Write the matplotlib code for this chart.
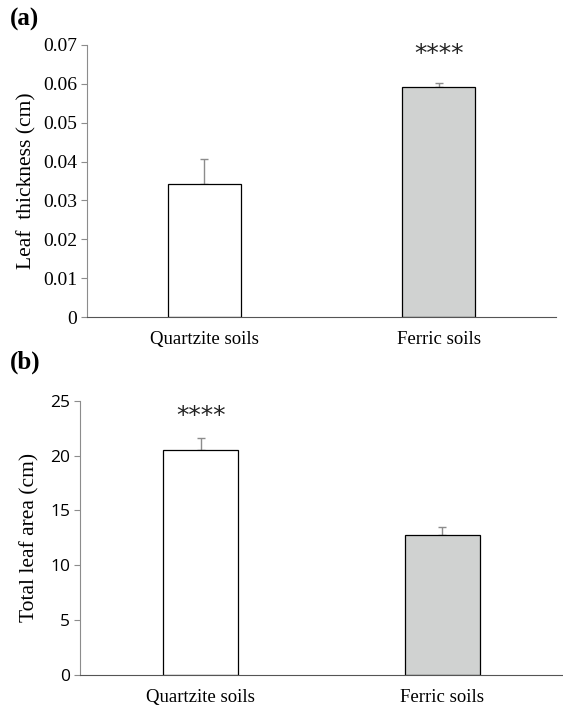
import numpy as np
import matplotlib.pyplot as plt

categories = ["Quartzite soils", "Ferric soils"]

thickness = [0.0342, 0.0592]
thickness_err = [0.0065, 0.0010]
thickness_ticks = [0, 0.01, 0.02, 0.03, 0.04, 0.05, 0.06, 0.07]
thickness_ticklabels = ["0", "0.01", "0.02", "0.03", "0.04", "0.05", "0.06", "0.07"]

area = [20.5, 12.8]
area_err = [1.1, 0.65]
area_ticks = [0, 5, 10, 15, 20, 25]

stars_a = ["", "****"]
stars_b = ["****", ""]

bar_colors = ["white", "#d0d2d1"]
axis_gray = "#8c8c8c"
serif = "Liberation Serif"


def style_axes(ax):
    for side in ["top", "right"]:
        ax.spines[side].set_visible(False)
    ax.spines["left"].set_color(axis_gray)
    ax.spines["bottom"].set_color("#555555")
    ax.tick_params(axis="y", length=4, color=axis_gray, pad=3)
    ax.tick_params(axis="x", length=0, pad=10)


def draw_bars(ax, values, errs, stars, star_pos):
    x = np.arange(len(values))
    ax.bar(x, values, width=0.31, color=bar_colors, edgecolor="black", linewidth=0.9, zorder=2)
    ax.errorbar(x, values, yerr=[np.zeros(len(errs)), errs], fmt="none",
                ecolor=axis_gray, elinewidth=1.0, capsize=3, capthick=1.0, zorder=1)
    for xi, s in zip(x, stars):
        if s:
            ax.text(xi, star_pos, s, ha="center", va="center", fontsize=18,
                    family="DejaVu Sans", color="#222222", clip_on=False)
    ax.set_xlim(-0.5, 1.5)
    ax.set_xticks(x)
    ax.set_xticklabels(categories, family=serif, fontsize=13.5)


fig = plt.figure(figsize=(5.63, 7.07), dpi=100)

ax1 = fig.add_axes([0.1545, 0.5516, 0.833, 0.3848])
draw_bars(ax1, thickness, thickness_err, stars_a, 0.0676)
ax1.set_ylim(0, 0.07)
ax1.set_yticks(thickness_ticks)
ax1.set_yticklabels(thickness_ticklabels, family=serif, fontsize=14)
ax1.set_ylabel("Leaf  thickness (cm)", family=serif, fontsize=15.5, labelpad=5)
style_axes(ax1)
fig.text(0.018, 0.972, "(a)", family=serif, fontsize=18, fontweight="bold", va="center")

ax2 = fig.add_axes([0.1421, 0.0453, 0.8579, 0.388])
draw_bars(ax2, area, area_err, stars_b, 23.6)
ax2.set_ylim(0, 25)
ax2.set_yticks(area_ticks)
ax2.set_yticklabels([str(t) for t in area_ticks], family="Open Sans", fontsize=12.5)
ax2.set_ylabel("Total leaf area (cm)", family=serif, fontsize=15.5, labelpad=8)
style_axes(ax2)
fig.text(0.018, 0.487, "(b)", family=serif, fontsize=18, fontweight="bold", va="center")

fig.savefig("out.png", dpi=100)
